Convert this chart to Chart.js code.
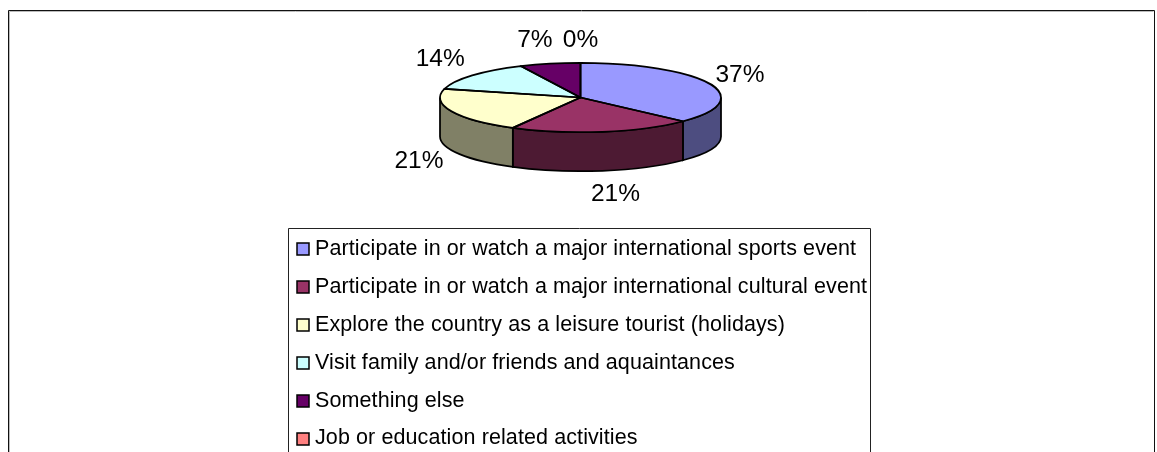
<!DOCTYPE html>
<html>
<head>
<meta charset="utf-8">
<style>html,body{margin:0;padding:0;background:#fff;overflow:hidden}canvas{display:block}</style>
<script src="https://cdn.jsdelivr.net/npm/chart.js@4"></script>
</head>
<body>
<canvas id="c" width="1157" height="452"></canvas>
<script>
const categories = [
  "Participate in or watch a major international sports event",
  "Participate in or watch a major international cultural event",
  "Explore the country as a leisure tourist (holidays)",
  "Visit family and/or friends and aquaintances",
  "Something else",
  "Job or education related activities"
];
const seriesValues = [37, 21, 21, 14, 7, 0];
const sliceColors = ["#9999FF", "#993366", "#FFFFCC", "#CCFFFF", "#660066", "#FF8080"];
const wallColors = ["#4D4D80", "#4D1A33", "#808066", "#668080", "#330033", "#804040"];
const labelOffsets = [[30.5,-8.5],[13,62.5],[-32.6,49.5],[-32,-16.5],[-15,-23.6],[0,-23]];

const TILT = 0.247, DEPTH = 39, RADIUS = 140.5;
const FONT = '"Liberation Sans", Arial, sans-serif';

const pie3d = {
  id: 'pie3d',
  beforeDraw(chart) {
    const ctx = chart.ctx;
    ctx.save();
    ctx.fillStyle = '#fff';
    ctx.fillRect(0, 0, chart.width, chart.height);
    // outer frame (open at the bottom, cropped by the picture)
    ctx.strokeStyle = '#111';
    ctx.lineWidth = 1;
    ctx.beginPath();
    ctx.moveTo(8.5, 452); ctx.lineTo(8.5, 10.5); ctx.lineTo(1154.5, 10.5); ctx.lineTo(1154.5, 452);
    ctx.stroke();
    ctx.strokeStyle = '#bbb';
    ctx.beginPath();
    ctx.moveTo(9.5, 452); ctx.lineTo(9.5, 11.5); ctx.lineTo(1153.5, 11.5);
    ctx.stroke();
    // legend
    ctx.strokeStyle = '#222';
    ctx.beginPath();
    ctx.moveTo(288.5, 452); ctx.lineTo(288.5, 228.5); ctx.lineTo(870.5, 228.5); ctx.lineTo(870.5, 452);
    ctx.stroke();
    ctx.textBaseline = 'middle';
    ctx.textAlign = 'left';
    ctx.font = '21.5px ' + FONT;
    ctx.letterSpacing = '0.1px';
    chart.data.labels.forEach((text, i) => {
      const y = 249 + i * 37.9;
      ctx.fillStyle = sliceColors[i];
      ctx.strokeStyle = '#000';
      ctx.lineWidth = 1.5;
      ctx.fillRect(297, Math.round(y) - 6, 12, 12);
      ctx.strokeRect(297, Math.round(y) - 6, 12, 12);
      ctx.fillStyle = '#000';
      ctx.fillText(text, 315, y);
    });
    ctx.letterSpacing = '0px';
    ctx.restore();
  },
  beforeDatasetsDraw(chart) {
    const ctx = chart.ctx;
    const arcs = chart.getDatasetMeta(0).data;
    ctx.save();
    ctx.strokeStyle = '#000';
    ctx.lineWidth = 1.75;
    arcs.forEach((arc, i) => {
      const a = Math.max(arc.startAngle, 0), b = Math.min(arc.endAngle, Math.PI);
      if (b <= a) return;
      const ry = RADIUS * TILT;
      ctx.beginPath();
      ctx.ellipse(arc.x, arc.y, RADIUS, ry, 0, a, b);
      ctx.ellipse(arc.x, arc.y + DEPTH, RADIUS, ry, 0, b, a, true);
      ctx.closePath();
      ctx.fillStyle = wallColors[i];
      ctx.fill();
      ctx.stroke();
    });
    ctx.restore();
  },
  beforeDatasetDraw(chart) {
    const ctx = chart.ctx, a = chart.getDatasetMeta(0).data[0];
    ctx.save();
    ctx.translate(a.x, a.y);
    ctx.scale(1, TILT);
    ctx.translate(-a.x, -a.y);
  },
  afterDatasetDraw(chart) { chart.ctx.restore(); },
  afterDatasetsDraw(chart) {
    const ctx = chart.ctx;
    const arcs = chart.getDatasetMeta(0).data;
    const total = seriesValues.reduce((s, v) => s + v, 0);
    ctx.save();
    ctx.strokeStyle = '#000';
    ctx.lineWidth = 1.75;
    ctx.lineJoin = 'round';
    arcs.forEach(arc => {
      if (arc.endAngle - arc.startAngle <= 0) return;
      ctx.beginPath();
      ctx.moveTo(arc.x, arc.y);
      ctx.ellipse(arc.x, arc.y, RADIUS, RADIUS * TILT, 0, arc.startAngle, arc.endAngle);
      ctx.closePath();
      ctx.stroke();
    });
    ctx.fillStyle = '#000';
    ctx.font = '24.5px ' + FONT;
    ctx.textAlign = 'center';
    ctx.textBaseline = 'middle';
    arcs.forEach((arc, i) => {
      const m = (arc.startAngle + arc.endAngle) / 2;
      const x = arc.x + RADIUS * Math.cos(m) + labelOffsets[i][0];
      const y = arc.y + RADIUS * TILT * Math.sin(m) + labelOffsets[i][1];
      ctx.fillText(Math.round(seriesValues[i] / total * 100) + '%', x, y);
    });
    ctx.restore();
  }
};

new Chart(document.getElementById('c'), {
  type: 'pie',
  data: {
    labels: categories,
    datasets: [{
      data: seriesValues,
      backgroundColor: sliceColors,
      borderWidth: 0,
      radius: RADIUS,
      clip: false
    }]
  },
  options: {
    responsive: false,
    animation: false,
    layout: { padding: { left: 4, right: 0, top: 0, bottom: 257 } },
    plugins: { legend: { display: false }, tooltip: { enabled: false } }
  },
  plugins: [pie3d]
});
</script>
</body>
</html>
